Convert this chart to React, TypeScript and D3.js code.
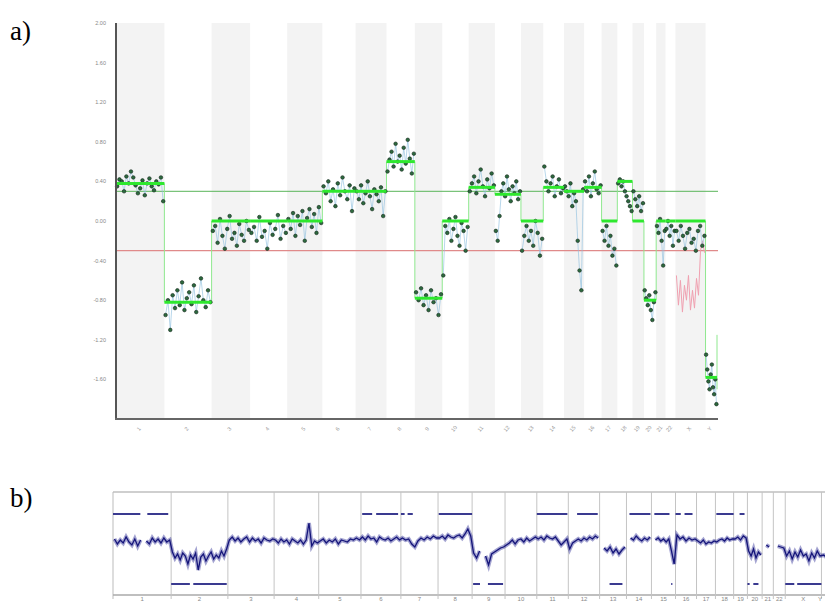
import React from 'react';
import * as d3 from 'd3';

// chromosome layout (Mb)
const chromNames = ['1', '2', '3', '4', '5', '6', '7', '8', '9', '10', '11', '12', '13', '14', '15', '16', '17', '18', '19', '20', '21', '22', 'X', 'Y'];
const chromLengths = [249, 243, 198, 191, 181, 171, 159, 146, 141, 136, 135, 134, 115, 107, 103, 90, 81, 78, 59, 63, 48, 51, 155, 59];

// panel a
const yTicksA = [2.0, 1.6, 1.2, 0.8, 0.4, 0.0, -0.4, -0.8, -1.2, -1.6];
const gainThreshold = 0.3;
const lossThreshold = -0.3;
const segmentValues = [0.38, -0.82, 0, 0, 0, 0.3, 0.3, 0.6, -0.78, 0, 0.34, 0.27, 0, 0.34, 0.3, 0.34, 0, 0.4, 0, -0.8, 0, 0, 0, -1.58];
const yTail = [-1.15, -1.7];

const pointsA: number[][] = [
  [0.35, 0.42, 0.4, 0.3, 0.45, 0.38, 0.5, 0.44, 0.36, 0.28, 0.33, 0.41, 0.26, 0.38, 0.43, 0.35, 0.31, 0.4, 0.37, 0.44, 0.2],
  [-0.95, -0.8, -1.1, -0.75, -0.88, -0.7, -0.85, -0.62, -0.9, -0.78, -0.72, -0.84, -0.65, -0.92, -0.76, -0.58, -0.8, -0.87, -0.7, -0.82],
  [-0.1, -0.05, -0.22, 0.02, -0.15, -0.28, -0.08, 0.05, -0.18, -0.12, -0.25, -0.03, -0.14, -0.2, 0.0, -0.09],
  [-0.12, -0.06, -0.2, 0.04, -0.16, -0.1, -0.28, -0.02, -0.14, -0.08, 0.06, -0.18, -0.05, -0.12],
  [0.02, -0.08, 0.08, -0.15, 0.05, -0.04, 0.1, -0.2, 0.03, 0.12, -0.06, 0.07, -0.12, 0.14, -0.02],
  [0.35, 0.28, 0.4, 0.2, 0.32, 0.15, 0.38, 0.26, 0.44, 0.3, 0.22, 0.36, 0.1, 0.33],
  [0.3, 0.22, 0.36, 0.18, 0.28, 0.4, 0.25, 0.12, 0.32, 0.27, 0.2, 0.34, 0.05, 0.3],
  [0.5, 0.62, 0.7, 0.55, 0.78, 0.6, 0.66, 0.52, 0.74, 0.58, 0.82, 0.63, 0.48, 0.68],
  [-0.72, -0.8, -0.68, -0.85, -0.75, -0.9, -0.7, -0.82, -0.78, -0.95, -0.74],
  [-0.55, -0.05, -0.12, 0.02, -0.2, -0.08, 0.04, -0.15, -0.25, -0.02, -0.1, -0.3, -0.06],
  [0.3, 0.38, 0.45, 0.28, 0.4, 0.52, 0.35, 0.25, 0.42, 0.33, 0.48, 0.36],
  [-0.1, -0.2, 0.05, 0.3, 0.38, 0.25, 0.45, 0.32, 0.2, 0.35, 0.28, 0.4, 0.22, 0.3],
  [-0.3, -0.15, -0.05, -0.2, -0.1, -0.25, 0.0, -0.12, -0.35, -0.18],
  [0.55, 0.4, 0.3, 0.38, 0.45, 0.25, 0.35, 0.42, 0.28, 0.33],
  [0.35, 0.3, 0.25, 0.38, 0.15, 0.28, 0.2, -0.2, -0.5, -0.7, 0.32],
  [0.4, 0.3, 0.45, 0.25, 0.38, 0.5, 0.32, 0.28, 0.36],
  [-0.1, -0.2, -0.05, -0.25, -0.15, -0.35, -0.28, -0.45],
  [0.38, 0.42, 0.35, 0.4, 0.3, 0.25, 0.2, 0.15, 0.1],
  [0.3, 0.22, 0.15, 0.25, 0.1, 0.18],
  [-0.7, -0.78, -0.85, -0.75, -0.9, -1.0, -0.82, -0.72],
  [-0.05, -0.12, 0.02, -0.2, -0.45, -0.1],
  [-0.08, 0.0, -0.15, -0.05, -0.25, -0.1],
  [-0.1, -0.2, -0.05, -0.15, -0.28, -0.12, -0.08, -0.22, -0.18, -0.3, -0.1, -0.05, -0.25, -0.15],
  [-1.35, -1.5, -1.62, -1.7, -1.55, -1.45, -1.68, -1.75, -1.6, -1.85],
];

// pink trace on chromosome X
const pinkX = [-0.55, -0.85, -0.6, -0.92, -0.65, -0.8, -0.55, -0.9, -0.7, -0.88, -0.58, -0.75, -0.3, -0.2, -0.32];

// panel b: trace per chromosome (null = gap)
const traceB: (number | null)[][] = [
  [0.04, -0.06, 0.02, -0.04, 0.08, -0.02, -0.08, 0.04, -0.1, 0.02, null, 0.0, -0.06, 0.06, -0.02, 0.04, -0.04, 0.06, -0.02, 0.02],
  [-0.22, -0.34, -0.26, -0.38, -0.24, -0.3, -0.46, -0.28, -0.36, -0.24, -0.58, -0.32, -0.26, -0.4, -0.3, -0.22, -0.36, -0.28, -0.34, -0.2, -0.3, -0.16],
  [0.02, 0.08, 0.0, 0.06, -0.02, 0.04, 0.08, -0.02, 0.06, 0.0, 0.04, -0.04, 0.06, 0.02, 0.0, 0.04],
  [0.02, -0.04, 0.04, -0.02, 0.02, -0.06, 0.04, 0.0, -0.04, 0.02, -0.06, 0.02, 0.36, -0.1, 0.0, -0.04],
  [0.0, 0.04, -0.04, 0.02, -0.02, 0.04, -0.06, 0.02, 0.0, -0.02, 0.04, 0.02, 0.06, 0.02],
  [0.08, 0.02, 0.1, 0.04, 0.06, -0.02, 0.08, 0.04, 0.02, 0.06, 0.0, 0.04, 0.08, 0.02],
  [0.06, 0.02, 0.04, -0.06, -0.12, 0.0, 0.06, 0.02, 0.08, 0.04, 0.1, 0.06],
  [0.06, 0.1, 0.04, 0.12, 0.08, 0.06, 0.1, 0.12, 0.06, 0.14, 0.24, 0.1],
  [-0.24, -0.34, -0.2, null, -0.3, -0.48, -0.26, -0.22, -0.18, -0.14, -0.12],
  [-0.08, -0.04, 0.02, -0.06, 0.02, 0.04, -0.02, 0.06, 0.0, 0.04, 0.08],
  [0.04, 0.08, 0.02, 0.1, 0.06, 0.04, 0.08, 0.0, -0.08, -0.02, 0.04],
  [-0.16, -0.04, 0.0, 0.04, 0.0, 0.06, 0.02, 0.08, 0.04, 0.1, 0.06],
  [null, -0.14, -0.2, -0.12, -0.24, -0.16, -0.26, -0.18, -0.12],
  [null, 0.06, 0.02, 0.1, 0.04, 0.0, 0.06, 0.02, 0.08],
  [null, 0.02, 0.06, 0.0, 0.04, -0.02, 0.04, -0.2, -0.46],
  [0.12, 0.04, 0.08, 0.0, 0.06, 0.02, 0.04],
  [0.0, -0.04, 0.02, -0.06, -0.02, -0.04, 0.0],
  [-0.02, 0.02, 0.04, 0.0, 0.06, 0.02, 0.04],
  [0.04, 0.08, 0.02, 0.1, 0.06],
  [-0.2, -0.3, -0.16, -0.34, -0.22, -0.28],
  [null, -0.08, -0.12, null],
  [null, -0.1, -0.12, -0.14],
  [-0.3, -0.2, -0.36, -0.22, -0.32, -0.18, -0.3, -0.26, -0.4, -0.24, -0.34, -0.2, -0.3],
  [-0.28, -0.36, -0.22],
];

// call tracks: [chrom index, start fraction, end fraction]
const gainsB: [number, number, number][] = [
  [0, 0.0, 0.47], [0, 0.59, 0.95], [5, 0.03, 0.28], [5, 0.38, 0.93], [6, 0.0, 0.1], [6, 0.18, 0.32],
  [7, 0.02, 1.0], [10, 0.0, 0.97], [11, 0.28, 0.94], [13, 0.12, 0.96], [14, 0.12, 0.75],
  [15, 0.0, 0.25], [15, 0.43, 0.81], [17, 0.05, 1.0], [18, 0.43, 0.79],
];
const lossesB: [number, number, number][] = [
  [1, 0.0, 0.33], [1, 0.39, 0.98], [8, 0.03, 0.24], [8, 0.48, 0.94], [12, 0.37, 0.85], [14, 0.82, 0.87],
  [19, 0.0, 0.15], [19, 0.4, 0.75], [22, 0.0, 0.25], [22, 0.33, 1.0],
];
const gainLevelB = 0.54;
const lossLevelB = -0.86;

const total = d3.sum(chromLengths);
const starts = [0, ...Array.from(d3.cumsum(chromLengths)).slice(0, -1)];

export default function App() {
  const xA = d3.scaleLinear().domain([0, total]).range([116, 717]);
  const yA = d3.scaleLinear().domain([-2, 2]).range([419, 23]);
  const xB = d3.scaleLinear().domain([0, total]).range([113, 113 + total * 0.2335]);
  const yB = d3.scaleLinear().domain([-1, 1]).range([591, 491]);

  const ptsA = pointsA.flatMap((vals, c) =>
    vals.map((v, i) => ({ c, x: starts[c] + ((i + 0.5) / vals.length) * chromLengths[c], v }))
  );
  const lineA = d3.line<{ x: number; v: number }>().x(d => xA(d.x)).y(d => yA(d.v));

  const pinkPts = pinkX.map((v, i) => ({ x: starts[22] + ((i + 0.5) / pinkX.length) * chromLengths[22], v }));

  const traceB_pts = traceB.flatMap((vals, c) =>
    vals.map((v, i) => ({ x: starts[c] + ((i + 0.5) / vals.length) * chromLengths[c], v }))
  );
  const lineB = d3.line<{ x: number; v: number | null }>()
    .defined(d => d.v !== null)
    .x(d => xB(d.x))
    .y(d => yB(d.v as number));

  const labelFont = '"Liberation Sans", Arial, sans-serif';

  return (
    <div style={{ position: 'absolute', left: 0, top: 0 }}>
      <svg width={825} height={603} style={{ display: 'block', background: '#fff' }}>
        <text x={10} y={40} fontFamily='"Liberation Serif", "Times New Roman", serif' fontSize={27}>a)</text>
        <text x={10} y={507} fontFamily='"Liberation Serif", "Times New Roman", serif' fontSize={27}>b)</text>

        {/* panel a bands */}
        {chromLengths.map((len, c) => c % 2 === 0 ? (
          <rect key={c} x={xA(starts[c])} y={yA(2)} width={xA(starts[c] + len) - xA(starts[c])} height={yA(-2) - yA(2)} fill="#f3f3f3" />
        ) : null)}

        {/* y ticks */}
        {yTicksA.map(t => (
          <text key={t} x={106} y={yA(t) + 2} textAnchor="end" fontSize={5.5} fill="#888" fontFamily={labelFont}>{t.toFixed(2)}</text>
        ))}

        {/* threshold lines */}
        <line x1={xA(0)} x2={718} y1={yA(gainThreshold)} y2={yA(gainThreshold)} stroke="#59b559" strokeWidth={1} />
        <line x1={xA(0)} x2={718} y1={yA(lossThreshold)} y2={yA(lossThreshold)} stroke="#e08a8a" strokeWidth={1.2} />

        {/* pink trace */}
        <path d={lineA(pinkPts) || ''} fill="none" stroke="#f0a0b0" strokeWidth={1} />

        {/* faint connecting lines per chromosome */}
        {pointsA.map((vals, c) => (
          <path key={c} d={lineA(ptsA.filter(p => p.c === c)) || ''} fill="none" stroke="#8fc0e0" strokeWidth={0.8} opacity={0.8} />
        ))}

        {/* segment connectors */}
        {segmentValues.map((v, c) => c > 0 && segmentValues[c - 1] !== v ? (
          <line key={c} x1={xA(starts[c])} x2={xA(starts[c])} y1={yA(segmentValues[c - 1])} y2={yA(v)} stroke="#8fe88f" strokeWidth={1} />
        ) : null)}
        <line x1={xA(total)} x2={xA(total)} y1={yA(yTail[0])} y2={yA(yTail[1])} stroke="#8fe88f" strokeWidth={1} />

        {/* points */}
        {ptsA.map((p, i) => (
          <circle key={i} cx={xA(p.x)} cy={yA(p.v)} r={1.8} fill="#2d6a3e" stroke="#10251a" strokeWidth={0.6} />
        ))}

        {/* segments */}
        {segmentValues.map((v, c) => (
          <line key={c} x1={xA(starts[c])} x2={xA(starts[c] + chromLengths[c])} y1={yA(v)} y2={yA(v)} stroke="#2ee82e" strokeWidth={3} />
        ))}

        {/* axes */}
        <line x1={116} x2={116} y1={yA(2)} y2={yA(-2) + 1} stroke="#555" strokeWidth={2} />
        <line x1={115} x2={718} y1={yA(-2)} y2={yA(-2)} stroke="#666" strokeWidth={2} />
        {chromNames.map((n, c) => {
          const cx = xA(starts[c] + chromLengths[c] / 2);
          return (
            <text key={n} transform={`translate(${cx},${430}) rotate(-50)`} textAnchor="middle" fontSize={5.5} fill="#999" fontFamily={labelFont}>{n}</text>
          );
        })}

        {/* panel b frame */}
        <line x1={113} x2={825} y1={492} y2={492} stroke="#cfcfcf" strokeWidth={2} />
        <line x1={113} x2={113} y1={492} y2={599} stroke="#bbb" strokeWidth={1} />
        <line x1={113} x2={825} y1={595} y2={595} stroke="#aaa" strokeWidth={1.5} />
        {chromLengths.map((len, c) => (
          <line key={c} x1={xB(starts[c] + len)} x2={xB(starts[c] + len)} y1={492} y2={599} stroke="#c4c4c4" strokeWidth={1} />
        ))}
        {chromNames.map((n, c) => (
          <text key={n} x={Math.min(xB(starts[c] + chromLengths[c] / 2), 820)} y={601} textAnchor="middle" fontSize={6} fill="#888" fontFamily={labelFont}>{n}</text>
        ))}

        {/* call tracks */}
        {gainsB.map(([c, f0, f1], i) => (
          <line key={'g' + i} x1={xB(starts[c] + f0 * chromLengths[c])} x2={xB(starts[c] + f1 * chromLengths[c])} y1={yB(gainLevelB)} y2={yB(gainLevelB)} stroke="#3a3a90" strokeWidth={2} />
        ))}
        {lossesB.map(([c, f0, f1], i) => (
          <line key={'l' + i} x1={xB(starts[c] + f0 * chromLengths[c])} x2={xB(starts[c] + f1 * chromLengths[c])} y1={yB(lossLevelB)} y2={yB(lossLevelB)} stroke="#3a3a90" strokeWidth={2} />
        ))}

        {/* trace */}
        <path d={lineB(traceB_pts) || ''} fill="none" stroke="#1c1c8c" strokeWidth={4} opacity={0.4} />
        <path d={lineB(traceB_pts) || ''} fill="none" stroke="#15157a" strokeWidth={1.3} />
      </svg>
    </div>
  );
}
